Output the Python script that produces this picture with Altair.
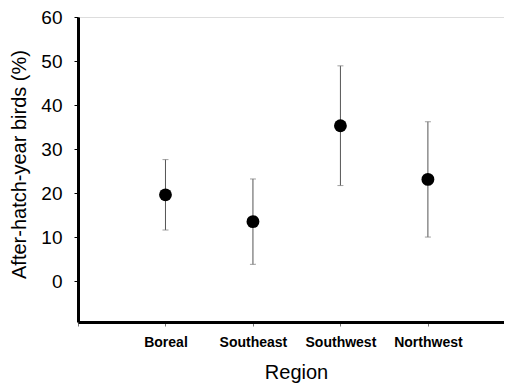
import altair as alt
import pandas as pd

regions = ["Boreal", "Southeast", "Southwest", "Northwest"]
positions = [1, 2, 3, 4]
means = [19.6, 13.5, 35.3, 23.1]
lower = [11.6, 3.8, 21.7, 10.0]
upper = [27.6, 23.2, 48.9, 36.2]
y_ticks = [0, 10, 20, 30, 40, 50, 60]

df = pd.DataFrame({"region": regions, "pos": positions, "mean": means,
                   "lo": lower, "hi": upper})

label_list = "[''," + ",".join("'" + r + "'" for r in regions) + "]"
FONT = "Liberation Sans"

x_enc = alt.X(
    "pos:Q",
    scale=alt.Scale(domain=[0, 4.87], nice=False, zero=False),
    axis=alt.Axis(
        values=[0, 1, 2, 3, 4],
        labelExpr=label_list + "[datum.value]",
        title="Region",
        grid=False,
        domainWidth=3, domainColor="black",
        tickColor="#777", tickSize=4, tickWidth=1,
        labelFont=FONT, labelFontSize=14, labelFontWeight="bold", labelColor="black",
        labelPadding=9, labelFlush=False, labelOverlap=False,
        titleFont=FONT, titleFontSize=20, titleFontWeight="normal", titleColor="black",
        titleX=218, titleY=50, titleBaseline="middle", titleAlign="center",
    ),
)

y_axis = alt.Axis(
    values=y_ticks,
    title="After-hatch-year birds (%)",
    grid=False,
    domainWidth=3, domainColor="black",
    tickColor="black", tickSize=4, tickWidth=1,
    labelFont=FONT, labelFontSize=19, labelColor="black", labelPadding=12,
    titleFont=FONT, titleFontSize=20, titleFontWeight="normal", titleColor="black",
    titleAngle=-90, titleX=-59, titleY=147, titleBaseline="middle", titleAlign="center",
)
y_scale = alt.Scale(domain=[-9.3, 60], nice=False, zero=False)

base = alt.Chart(df)

rules = base.mark_rule(color="#555", strokeWidth=1).encode(
    x=x_enc,
    y=alt.Y("lo:Q", scale=y_scale, axis=y_axis),
    y2="hi:Q",
)
cap_lo = base.mark_tick(color="#777", orient="horizontal", size=6, thickness=1).encode(
    x="pos:Q", y=alt.Y("lo:Q", scale=y_scale))
cap_hi = base.mark_tick(color="#777", orient="horizontal", size=6, thickness=1).encode(
    x="pos:Q", y=alt.Y("hi:Q", scale=y_scale))
points = base.mark_circle(color="black", opacity=1, size=165).encode(
    x="pos:Q", y=alt.Y("mean:Q", scale=y_scale))

chart = (
    alt.layer(rules, cap_lo, cap_hi, points)
    .properties(
        width=426, height=305,
        padding={"left": 70, "top": 9, "right": 0, "bottom": 62},
        autosize=alt.AutoSizeParams(type="none"),
    )
    .configure_view(stroke=None)
    .configure(background="white")
)

chart.save("out.html", embed_options={"renderer": "svg", "actions": False})
